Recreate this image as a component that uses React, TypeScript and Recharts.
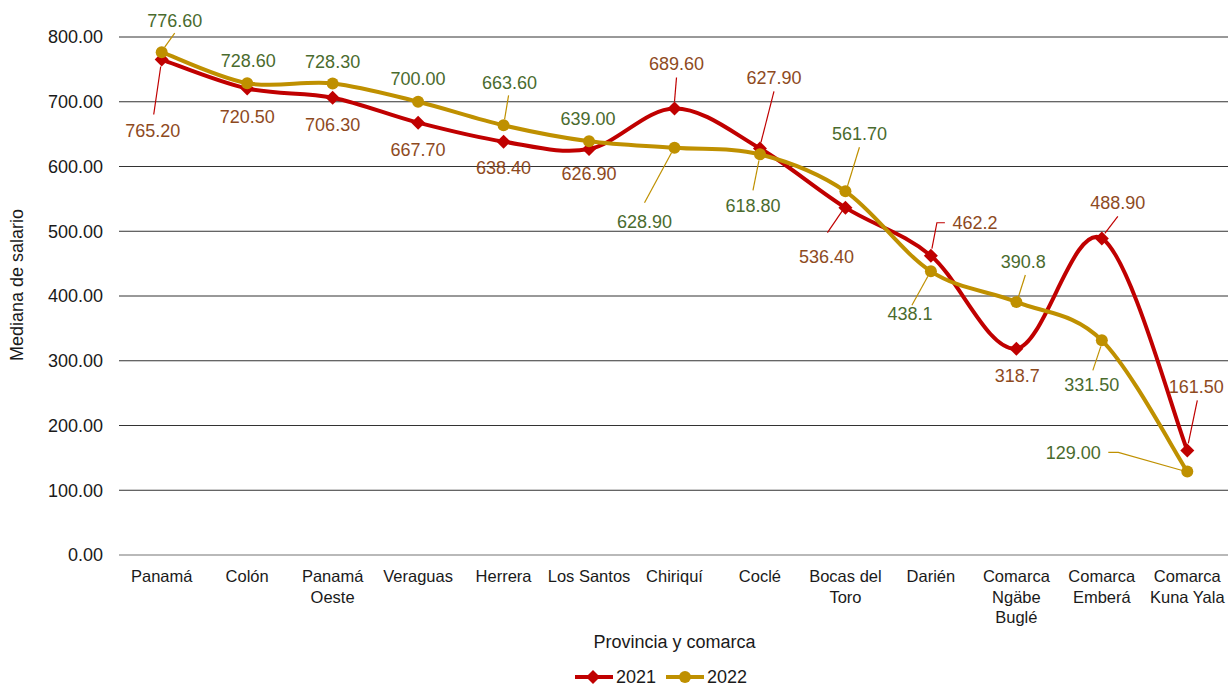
import { LineChart, Line, XAxis, YAxis, CartesianGrid, Legend, LabelList } from 'recharts'

const categories = [
  'Panamá',
  'Colón',
  'Panamá\nOeste',
  'Veraguas',
  'Herrera',
  'Los Santos',
  'Chiriquí',
  'Coclé',
  'Bocas del\nToro',
  'Darién',
  'Comarca\nNgäbe\nBuglé',
  'Comarca\nEmberá',
  'Comarca\nKuna Yala',
]
const values2021 = [765.2, 720.5, 706.3, 667.7, 638.4, 626.9, 689.6, 627.9, 536.4, 462.2, 318.7, 488.9, 161.5]
const values2022 = [776.6, 728.6, 728.3, 700.0, 663.6, 639.0, 628.9, 618.8, 561.7, 438.1, 390.8, 331.5, 129.0]
const labels2021 = ['765.20', '720.50', '706.30', '667.70', '638.40', '626.90', '689.60', '627.90', '536.40', '462.2', '318.7', '488.90', '161.50']
const labels2022 = ['776.60', '728.60', '728.30', '700.00', '663.60', '639.00', '628.90', '618.80', '561.70', '438.1', '390.8', '331.50', '129.00']
const yTicks = [0, 100, 200, 300, 400, 500, 600, 700, 800]

const data = categories.map((name, i) => ({ name, y2021: values2021[i], y2022: values2022[i] }))

// label placement relative to the point, with optional leader line
type LabelPos = { dx: number; dy: number; leader?: number[][] }
const pos2021: LabelPos[] = [
  { dx: -9, dy: 71, leader: [[-8, 55], [-1, 7]] },
  { dx: 0, dy: 28 },
  { dx: 0, dy: 27 },
  { dx: 0, dy: 27 },
  { dx: 0, dy: 26 },
  { dx: 0, dy: 25 },
  { dx: 2, dy: -45, leader: [[2, -31], [0, -7]] },
  { dx: 14, dy: -71, leader: [[14, -57], [1, -6]] },
  { dx: -19, dy: 49, leader: [[-18, 25], [-3, 3]] },
  { dx: 44, dy: -33, leader: [[14, -33], [6, -33], [1, -7]] },
  { dx: 1, dy: 27 },
  { dx: 16, dy: -36, leader: [[16, -22], [3, -5]] },
  { dx: 9, dy: -64, leader: [[10, -50], [1, -7]] },
]
const pos2022: LabelPos[] = [
  { dx: 13, dy: -31, leader: [[13, -19], [3, -5]] },
  { dx: 1, dy: -23 },
  { dx: 0, dy: -22 },
  { dx: 0, dy: -23 },
  { dx: 6, dy: -43, leader: [[5, -30], [1, -6]] },
  { dx: -1, dy: -23 },
  { dx: -30, dy: 74, leader: [[-30, 55], [-3, 5]] },
  { dx: -7, dy: 51, leader: [[-7, 36], [-1, 6]] },
  { dx: 14, dy: -58, leader: [[14, -44], [2, -5]] },
  { dx: -21, dy: 42, leader: [[-19, 34], [-3, 5]] },
  { dx: 7, dy: -40, leader: [[9, -27], [2, -5]] },
  { dx: -10, dy: 44, leader: [[-9, 30], [-1, 6]] },
  { dx: -114, dy: -19, leader: [[-79, -19], [-69, -19], [-5, -1]] },
]

const FONT = '"Liberation Sans", Arial, sans-serif'
const RED = '#C00000'
const GOLD = '#BF9000'
const BROWN = '#8E4A1E'
const GREEN = '#4A6B2E'

// smoothing like the office "smoothed line" (cardinal spline through the points)
function smoothCurve(context: any) {
  let pts: number[][] = []
  return {
    areaStart() {},
    areaEnd() {},
    lineStart() {
      pts = []
    },
    point(x: number, y: number) {
      pts.push([+x, +y])
    },
    lineEnd() {
      const n = pts.length
      if (!n) return
      context.moveTo(pts[0][0], pts[0][1])
      for (let i = 0; i < n - 1; i++) {
        const p0 = pts[Math.max(i - 1, 0)]
        const p1 = pts[i]
        const p2 = pts[i + 1]
        const p3 = pts[Math.min(i + 2, n - 1)]
        context.bezierCurveTo(
          p1[0] + (p2[0] - p0[0]) / 6,
          p1[1] + (p2[1] - p0[1]) / 6,
          p2[0] - (p3[0] - p1[0]) / 6,
          p2[1] - (p3[1] - p1[1]) / 6,
          p2[0],
          p2[1],
        )
      }
    },
  }
}

const Diamond = ({ cx, cy, size = 7 }: any) => (
  <polygon points={`${cx},${cy - size} ${cx + size},${cy} ${cx},${cy + size} ${cx - size},${cy}`} fill={RED} />
)

const makeLabel = (positions: LabelPos[], texts: string[], color: string, leaderColor: string) => (props: any) => {
  const { index } = props
  const x = props.x ?? props.viewBox?.x
  const y = props.y ?? props.viewBox?.y
  const p = positions[index]
  if (!p || x == null || y == null) return null
  return (
    <g key={`lbl-${index}`}>
      {p.leader && (
        <polyline
          points={p.leader.map(([lx, ly]) => `${x + lx},${y + ly}`).join(' ')}
          fill="none"
          stroke={leaderColor}
          strokeWidth={1.2}
        />
      )}
      <text x={x + p.dx} y={y + p.dy} dy="0.35em" textAnchor="middle" fill={color} fontSize={18} fontFamily={FONT}>
        {texts[index]}
      </text>
    </g>
  )
}

const CategoryTick = ({ x, y, payload }: any) => {
  const lines = String(payload.value).split('\n')
  return (
    <text x={x} y={y} textAnchor="middle" fill="#1a1a1a" fontSize={16.5} fontFamily={FONT}>
      {lines.map((l, i) => (
        <tspan key={i} x={x} y={y + 27 + i * 20.5}>
          {l}
        </tspan>
      ))}
    </text>
  )
}

const LegendContent = () => (
  <div style={{ display: 'flex', alignItems: 'center', paddingLeft: 575, height: 24, fontFamily: FONT, fontSize: 18, color: '#1a1a1a' }}>
    <svg width={38} height={16}>
      <line x1={0} y1={8} x2={38} y2={8} stroke={RED} strokeWidth={4} />
      <Diamond cx={18} cy={8} size={7} />
    </svg>
    <span style={{ marginLeft: 3, marginRight: 10 }}>2021</span>
    <svg width={38} height={16}>
      <line x1={0} y1={8} x2={38} y2={8} stroke={GOLD} strokeWidth={4} />
      <circle cx={19} cy={8} r={6} fill={GOLD} />
    </svg>
    <span style={{ marginLeft: 3 }}>2022</span>
  </div>
)

export default function App() {
  return (
    <div style={{ position: 'absolute', left: 0, top: 0, width: 1228, height: 686, overflow: 'hidden', background: '#fff' }}>
      <LineChart width={1230} height={689} data={data} margin={{ top: 37, right: 0, left: 0, bottom: 0 }}>
        <CartesianGrid vertical={false} stroke="#333" strokeWidth={1} />
        <XAxis
          dataKey="name"
          interval={0}
          padding={{ left: 42.7, right: 42.7 }}
          tickLine={false}
          tickSize={0}
          tickMargin={0}
          height={110}
          axisLine={{ stroke: '#D9D9D9', strokeWidth: 1 }}
          tick={<CategoryTick />}
          label={{
            content: (p: any) => {
              const vb = p.viewBox || {}
              return (
                <text x={vb.x + vb.width / 2} y={vb.y + 87} dy="0.35em" textAnchor="middle" fill="#1a1a1a" fontSize={18} fontFamily={FONT}>
                  Provincia y comarca
                </text>
              )
            },
          }}
        />
        <YAxis
          domain={[0, 800]}
          ticks={yTicks}
          interval={0}
          width={119}
          axisLine={false}
          tickLine={false}
          tickSize={0}
          tickMargin={16}
          tickFormatter={(v: number) => v.toFixed(2)}
          tick={{ fill: '#1a1a1a', fontSize: 18, fontFamily: FONT }}
          label={{
            content: (p: any) => {
              const vb = p.viewBox || {}
              const cx = vb.x + 17
              const cy = vb.y + vb.height / 2 - 11
              return (
                <text x={cx} y={cy} dy="0.35em" textAnchor="middle" transform={`rotate(-90 ${cx} ${cy})`} fill="#1a1a1a" fontSize={18} fontFamily={FONT}>
                  Mediana de salario
                </text>
              )
            },
          }}
        />
        <Legend verticalAlign="bottom" height={24} content={<LegendContent />} />
        <Line
          dataKey="y2021"
          name="2021"
          type={smoothCurve as any}
          stroke={RED}
          strokeWidth={4}
          dot={(p: any) => <Diamond key={`d21-${p.index}`} cx={p.cx} cy={p.cy} size={7} />}
          activeDot={false}
          isAnimationActive={false}
        >
          <LabelList dataKey="y2021" content={makeLabel(pos2021, labels2021, BROWN, RED)} />
        </Line>
        <Line
          dataKey="y2022"
          name="2022"
          type={smoothCurve as any}
          stroke={GOLD}
          strokeWidth={4}
          dot={(p: any) => <circle key={`d22-${p.index}`} cx={p.cx} cy={p.cy} r={6} fill={GOLD} />}
          activeDot={false}
          isAnimationActive={false}
        >
          <LabelList dataKey="y2022" content={makeLabel(pos2022, labels2022, GREEN, GOLD)} />
        </Line>
      </LineChart>
    </div>
  )
}
